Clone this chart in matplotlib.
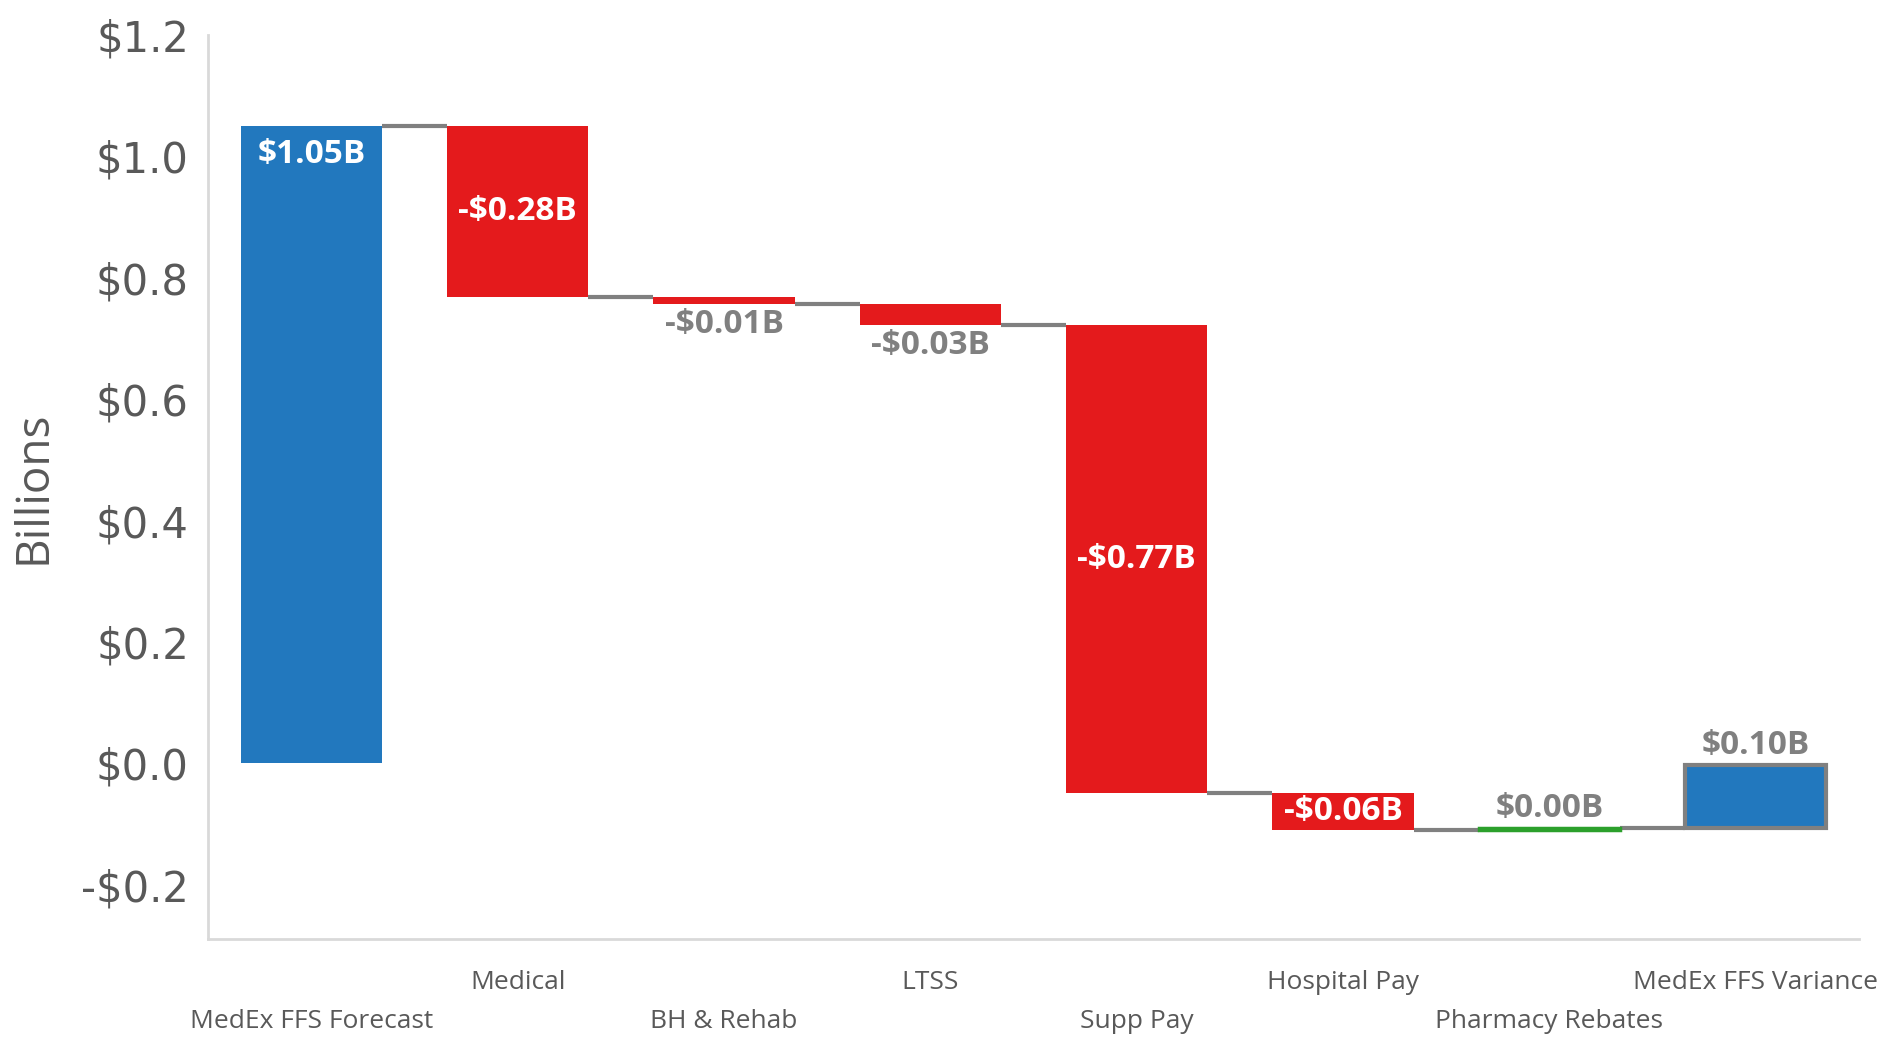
import matplotlib.pyplot as plt
import numpy as np

categories = ['MedEx FFS Forecast', 'Medical', 'BH & Rehab', 'LTSS', 'Supp Pay',
              'Hospital Pay', 'Pharmacy Rebates', 'MedEx FFS Variance']
# first value is the starting total, the rest are changes
changes = [1.05, -0.282, -0.012, -0.034, -0.771, -0.06, 0.002, 0.104]
labels = ['$1.05B', '-$0.28B', '-$0.01B', '-$0.03B', '-$0.77B', '-$0.06B', '$0.00B', '$0.10B']
label_pos = ['top', 'mid', 'below', 'below', 'mid', 'mid', 'above', 'above']

BLUE = '#2278BE'
RED = '#E41A1C'
GREEN = '#2CA02C'
GREY = '#808080'

fig = plt.figure(figsize=(18.93, 10.38), dpi=100)
ax = fig.add_axes([0.110, 0.0954, 0.872, 0.871])

x = np.arange(len(categories))
w = 0.685
starts = []
ends = []
total = 0.0
for i, c in enumerate(changes):
    if i == 0:
        starts.append(0.0)
        total = c
    else:
        starts.append(total)
        total = total + c
    ends.append(total)

for i in range(len(categories)):
    lo = min(starts[i], ends[i])
    h = abs(ends[i] - starts[i])
    if i == 0:
        ax.bar(x[i], h, w, bottom=lo, color=BLUE, zorder=3)
    elif i == len(categories) - 1:
        ax.bar(x[i], h, w, bottom=lo, color=BLUE, edgecolor=GREY, linewidth=3, zorder=3)
    elif changes[i] < 0:
        ax.bar(x[i], h, w, bottom=lo, color=RED, zorder=3)
    else:
        ax.bar(x[i], h, w, bottom=lo, color=GREEN, edgecolor=GREEN, linewidth=2.5, zorder=3)

# connectors
for i in range(len(categories) - 1):
    ax.plot([x[i] + w / 2, x[i + 1] - w / 2], [ends[i], ends[i]], color=GREY, lw=3, zorder=2,
            solid_capstyle='butt')

lab_font = dict(family='Open Sans', fontweight='bold', fontsize=24)
for i in range(len(categories)):
    top = max(starts[i], ends[i])
    bot = min(starts[i], ends[i])
    p = label_pos[i]
    if p == 'top':
        ax.text(x[i], top - 0.02, labels[i], ha='center', va='top', color='white', **lab_font)
    elif p == 'mid':
        ax.text(x[i], (top + bot) / 2, labels[i], ha='center', va='center', color='white', **lab_font)
    elif p == 'below':
        ax.text(x[i], bot - 0.006, labels[i], ha='center', va='top', color=GREY, **lab_font)
    else:
        ax.text(x[i], top + 0.006, labels[i], ha='center', va='bottom', color=GREY, **lab_font)

ax.set_xlim(-0.5, 7.5)
ax.set_ylim(-0.289, 1.2)
yt = [-0.2, 0.0, 0.2, 0.4, 0.6, 0.8, 1.0, 1.2]
ax.set_yticks(yt)
ax.set_yticklabels([('-$%.1f' % abs(v)) if v < 0 else ('$%.1f' % v) for v in yt],
                   fontsize=30, color='#595959', family='DejaVu Sans')
ax.tick_params(axis='y', length=0, pad=14)
ax.set_xticks([])
for i, c in enumerate(categories):
    off = -44 if i % 2 == 1 else -83
    ax.annotate(c, (x[i], 0), xycoords=('data', 'axes fraction'), xytext=(0, off),
                textcoords='offset pixels', ha='center', va='center', fontsize=19,
                color='#595959', family='Open Sans')

ax.set_ylabel('Billions', fontsize=33, color='#595959', family='Open Sans', labelpad=18)
for s in ['top', 'right']:
    ax.spines[s].set_visible(False)
for s in ['left', 'bottom']:
    ax.spines[s].set_color('#d9d9d9')
    ax.spines[s].set_linewidth(2)

fig.savefig('out.png', dpi=100)
